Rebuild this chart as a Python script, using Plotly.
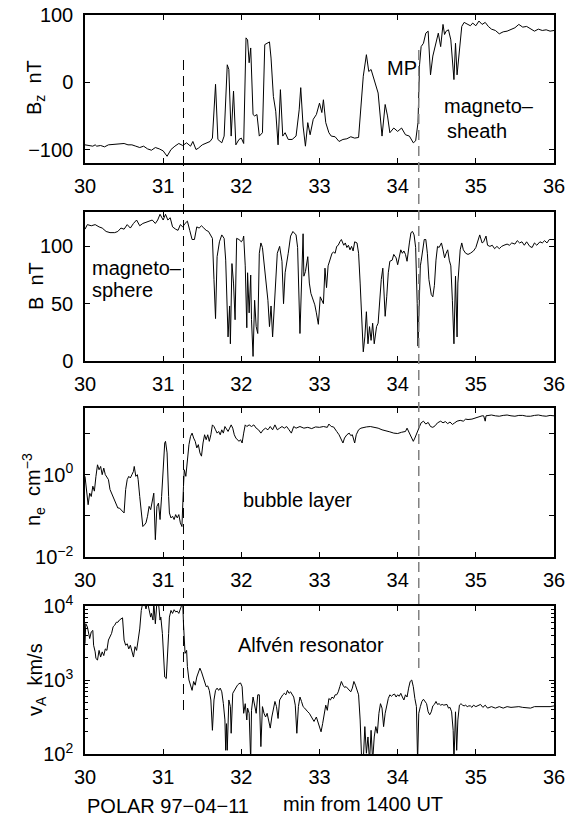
import numpy as np
import plotly.graph_objects as go

# ---------------- data ----------------
bz_t = [30.0,30.05,30.1,30.13,30.15,30.2,30.25,30.3,30.4,30.5,30.55,30.6,30.65,30.7,30.75,30.8,30.85,30.9,30.95,31.0,
        31.05,31.1,31.15,31.2,31.25,31.3,31.35,31.38,31.42,31.45,31.5,31.55,31.6,31.63,31.67,31.7,31.75,31.78,31.82,31.84,
        31.87,31.9,31.93,31.97,32.0,32.03,32.06,32.08,32.1,32.12,32.15,32.17,32.2,32.23,32.27,32.3,32.33,32.36,32.38,32.41,
        32.44,32.47,32.5,32.53,32.56,32.6,32.65,32.7,32.74,32.76,32.79,32.82,32.85,32.88,32.92,32.96,33.0,
        33.03,33.05,33.08,33.12,33.15,33.2,33.25,33.3,33.35,33.4,33.45,33.5,33.53,33.56,33.6,33.63,33.66,33.7,33.75,33.8,
        33.84,33.87,33.9,33.95,34.0,34.05,34.1,34.15,34.2,34.23,34.26,34.28,34.3,34.33,34.36,34.39,34.42,34.45,34.49,34.52,
        34.55,34.58,34.6,34.62,34.65,34.68,34.72,34.74,34.76,34.79,34.82,34.85,34.9,34.93,34.96,35.0,35.04,35.08,35.12,35.16,
        35.2,35.25,35.3,35.35,35.4,35.45,35.5,35.55,35.6,35.65,35.7,35.75,35.8,35.85,35.9,35.95,36.0]
bz_nT = [-93,-94,-95,-93,-95,-94,-96,-93,-92,-91,-93,-93,-95,-97,-95,-99,-101,-97,-99,-102,
         -110,-100,-95,-91,-94,-90,-95,-88,-100,-98,-93,-91,-88,-83,-3,-85,-90,-80,26,19,
         -80,-13,-93,-85,-83,-91,66,63,29,51,-48,-50,-48,-80,-75,56,58,60,36,-21,
         -43,-93,-11,-80,-75,-85,-85,-80,-41,-8,-65,-95,-60,-78,-55,-48,-31,
         -45,-26,-60,-75,-80,-81,-88,-85,-84,-81,-83,-82,-41,9,41,16,19,4,-16,-80,
         -33,-50,-75,-68,-73,-68,-78,-80,-90,-87,-60,26,53,58,73,76,11,39,58,73,
         53,86,71,76,78,63,4,58,11,44,83,89,86,84,88,84,91,86,89,83,
         79,77,72,75,76,78,81,86,82,83,79,76,79,77,78,76,77]

b_t = [30.0,30.03,30.08,30.13,30.18,30.22,30.27,30.32,30.38,30.42,30.46,30.5,30.54,30.58,30.62,30.66,30.7,30.74,30.78,30.82,
       30.86,30.9,30.93,30.96,31.0,31.03,31.06,31.09,31.12,31.16,31.19,31.22,31.25,31.28,31.31,31.34,31.37,31.4,31.43,31.46,
       31.49,31.52,31.55,31.58,31.61,31.63,31.65,31.67,31.69,31.72,31.75,31.78,31.8,31.82,31.83,31.85,31.86,31.88,31.9,31.92,
       31.94,31.97,32.0,32.02,32.03,32.05,32.07,32.08,32.1,32.12,32.13,32.15,32.17,32.19,32.21,32.23,32.25,32.27,32.3,32.32,
       32.34,32.36,32.38,32.4,32.43,32.46,32.49,32.52,32.54,32.56,32.6,32.63,32.66,32.7,32.72,32.75,32.79,32.8,32.82,32.85,
       32.87,32.89,32.91,32.94,32.96,32.985,33.01,33.03,33.05,33.07,33.09,33.11,33.14,33.16,33.18,33.2,33.22,33.24,33.26,33.28,
       33.31,33.33,33.35,33.37,33.39,33.41,33.43,33.45,33.48,33.5,33.52,33.54,33.56,33.58,33.6,33.62,33.64,33.66,33.68,33.7,
       33.73,33.75,33.77,33.79,33.81,33.82,33.84,33.86,33.88,33.9,33.93,33.95,33.98,34.0,34.02,34.04,34.06,34.08,34.1,34.12,
       34.15,34.17,34.19,34.21,34.23,34.24,34.25,34.26,34.28,34.29,34.3,34.32,34.34,34.36,34.38,34.4,34.43,34.45,34.47,34.49,
       34.51,34.53,34.56,34.58,34.6,34.62,34.64,34.66,34.68,34.7,34.72,34.74,34.76,34.77,34.8,34.82,34.84,34.87,34.9,34.93,
       34.97,35.0,35.03,35.05,35.08,35.1,35.13,35.15,35.18,35.21,35.24,35.27,35.3,35.33,35.36,35.4,35.43,35.46,35.5,35.53,
       35.56,35.59,35.62,35.65,35.69,35.72,35.75,35.78,35.82,35.85,35.88,35.91,35.94,35.97,36.0]
b_nT = [115,119,118,119,117,116,113,112,112,113,116,115,119,116,120,123,118,120,121,122,
        123,120,123,128,123,128,123,125,117,115,114,119,117,120,122,114,106,106,117,116,
        118,116,114,113,109,107,71,37,91,104,110,107,88,42,21,48,15,85,68,36,
        107,106,104,106,109,83,29,77,42,75,36,4,53,30,24,94,103,99,80,68,
        53,30,48,21,56,94,100,87,50,77,94,109,113,110,99,24,111,74,78,91,
        68,59,55,49,42,32,56,53,50,81,64,83,91,94,95,94,100,101,104,106,
        101,103,99,101,97,100,96,104,103,94,68,30,8,21,43,15,30,18,33,15,
        30,33,58,71,81,68,39,56,77,87,88,93,90,84,91,97,94,96,93,87,
        103,112,113,110,99,80,50,13,68,83,87,97,106,106,94,71,58,56,66,88,
        100,99,103,97,90,94,97,88,83,53,15,74,21,68,97,103,97,94,93,94,
        96,99,107,110,103,104,109,101,100,101,98,100,98,100,101,102,101,103,102,105,
        103,104,101,104,100,99,103,101,104,103,105,103,106,106,106]

ne_t = [30.0,30.02,30.04,30.06,30.08,30.1,30.12,30.14,30.16,30.18,30.2,30.22,30.24,30.26,30.28,30.3,30.32,30.34,30.36,30.38,
        30.4,30.42,30.44,30.46,30.48,30.5,30.52,30.54,30.56,30.58,30.6,30.62,30.63,30.65,30.67,30.68,30.7,30.72,30.74,30.76,
        30.78,30.8,30.82,30.84,30.86,30.88,30.9,30.92,30.94,30.96,30.98,31.0,31.02,31.03,31.05,31.07,31.08,31.1,31.12,31.14,
        31.16,31.18,31.2,31.22,31.24,31.26,31.27,31.29,31.31,31.33,31.35,31.37,31.39,31.41,31.43,31.45,31.47,31.49,31.51,31.53,
        31.55,31.57,31.59,31.61,31.63,31.65,31.67,31.69,31.71,31.73,31.75,31.77,31.79,31.81,31.83,31.85,31.87,31.89,31.91,31.93,
        31.95,31.97,31.99,32.01,32.03,32.05,32.07,32.1,32.13,32.16,32.19,32.22,32.25,32.28,32.31,32.34,32.37,32.4,32.43,32.46,
        32.49,32.52,32.55,32.58,32.61,32.64,32.67,32.7,32.75,32.8,32.85,32.9,32.95,33.0,33.05,33.1,33.12,33.15,33.18,33.2,
        33.22,33.25,33.28,33.3,33.32,33.35,33.38,33.4,33.42,33.45,33.47,33.5,33.53,33.56,33.6,33.65,33.7,33.75,33.8,33.85,
        33.9,33.95,34.0,34.05,34.1,34.12,34.15,34.18,34.2,34.22,34.25,34.28,34.3,34.33,34.36,34.39,34.42,34.45,34.48,34.51,
        34.55,34.58,34.61,34.64,34.67,34.7,34.73,34.76,34.8,34.84,34.87,34.9,34.95,35.0,35.05,35.08,35.1,35.12,35.13,35.17,
        35.2,35.25,35.3,35.35,35.4,35.45,35.5,35.55,35.6,35.65,35.7,35.75,35.8,35.85,35.9,35.95,36.0]
ne_log10_cm3 = [-0.04,-0.36,-0.73,-0.45,-0.53,-0.28,-0.4,-0.04,0.24,0.12,0.2,0.0,0.16,0.0,-0.08,-0.12,-0.36,-0.45,-0.53,-0.61,
                -0.73,-0.81,-0.81,-0.85,-0.89,-0.93,-0.36,-0.12,-0.04,-0.08,0.0,0.08,0.2,-0.04,0.0,-0.12,-0.53,-1.01,-1.26,-1.22,
                -1.17,-1.01,-0.77,-0.85,-0.69,-0.45,-1.58,-0.77,-0.69,-1.09,-0.53,0.2,0.77,0.81,0.53,-0.53,-0.93,-1.05,-1.01,-1.09,
                -0.97,-1.05,-0.97,-1.17,-1.26,-0.28,0.12,-0.04,0.45,0.73,0.93,1.01,0.89,0.81,0.65,0.73,0.53,0.45,0.77,0.97,
                0.85,0.97,0.81,0.97,1.21,1.17,1.09,1.01,1.05,0.97,1.09,1.01,1.17,1.09,1.05,1.13,1.21,1.13,0.97,0.89,
                0.85,0.81,0.85,0.77,1.01,1.21,1.17,1.21,1.17,1.21,1.13,1.09,1.01,1.09,1.13,1.09,1.17,1.09,1.21,1.09,
                1.13,1.17,1.13,1.17,1.09,1.01,1.17,1.13,1.17,1.13,1.15,1.12,1.16,1.15,1.17,1.15,1.23,1.17,1.16,1.09,
                1.05,0.97,0.87,0.77,0.89,0.97,1.01,0.95,0.97,0.77,0.97,1.09,1.13,1.15,1.16,1.17,1.15,1.13,1.09,1.07,
                1.04,1.01,1.0,1.03,1.05,1.13,1.01,0.89,0.81,0.89,1.05,1.17,1.26,1.30,1.23,1.27,1.17,1.15,1.19,1.26,
                1.30,1.26,1.29,1.24,1.28,1.22,1.26,1.30,1.32,1.30,1.35,1.34,1.35,1.38,1.42,1.43,1.43,1.30,1.43,1.44,
                1.45,1.43,1.42,1.44,1.45,1.43,1.42,1.44,1.44,1.42,1.42,1.44,1.45,1.43,1.42,1.44,1.43]

va_t = [30.0,30.01,30.03,30.04,30.05,30.06,30.08,30.1,30.11,30.13,30.14,30.16,30.18,30.2,30.22,30.24,30.26,30.28,30.3,30.32,
        30.34,30.36,30.38,30.4,30.42,30.44,30.46,30.48,30.5,30.52,30.54,30.56,30.58,30.6,30.62,30.64,30.66,30.68,30.7,30.72,
        30.74,30.76,30.78,30.8,30.82,30.84,30.85,30.87,30.88,30.9,30.92,30.94,30.96,30.97,30.99,31.01,31.02,31.04,31.05,31.07,
        31.08,31.1,31.12,31.14,31.16,31.18,31.2,31.22,31.24,31.25,31.26,31.27,31.28,31.3,31.31,31.33,31.35,31.37,31.39,31.41,
        31.43,31.45,31.47,31.49,31.51,31.53,31.55,31.57,31.59,31.61,31.63,31.65,31.67,31.69,31.71,31.73,31.75,31.77,31.79,31.8,
        31.81,31.82,31.84,31.86,31.87,31.89,31.91,31.93,31.95,31.97,31.99,32.01,32.03,32.05,32.07,32.08,32.1,32.12,32.13,32.15,
        32.17,32.19,32.21,32.23,32.25,32.27,32.29,32.31,32.33,32.35,32.37,32.39,32.41,32.43,32.45,32.47,32.49,32.51,32.53,32.55,
        32.57,32.59,32.61,32.63,32.65,32.67,32.69,32.71,32.73,32.75,32.77,32.79,32.81,32.83,32.85,32.87,32.9,32.93,32.96,33.0,
        33.02,33.04,33.06,33.08,33.1,33.12,33.14,33.16,33.18,33.2,33.22,33.24,33.26,33.28,33.3,33.32,33.34,33.36,33.38,33.4,
        33.42,33.44,33.46,33.48,33.5,33.52,33.54,33.56,33.58,33.6,33.62,33.64,33.66,33.68,33.7,33.72,33.74,33.76,33.78,33.8,
        33.82,33.84,33.86,33.88,33.9,33.92,33.94,33.96,33.98,34.0,34.02,34.04,34.06,34.08,34.1,34.12,34.14,34.16,34.18,34.2,
        34.22,34.24,34.255,34.27,34.29,34.31,34.33,34.35,34.37,34.39,34.41,34.43,34.45,34.47,34.49,34.51,34.53,34.55,34.57,34.59,
        34.61,34.63,34.65,34.67,34.69,34.71,34.72,34.74,34.755,34.77,34.79,34.81,34.83,34.85,34.87,34.89,34.91,34.93,34.95,34.97,
        35.0,35.03,35.06,35.09,35.12,35.15,35.2,35.25,35.3,35.35,35.4,35.45,35.5,35.55,35.6,35.65,35.7,35.75,35.8,35.85,
        35.9,35.95,36.0]
va_log10_kms = [3.49,3.76,3.72,3.67,3.60,3.56,3.65,3.67,3.47,3.38,3.29,3.27,3.40,3.31,3.38,3.33,3.42,3.40,3.54,3.58,
                3.63,3.72,3.74,3.78,3.78,3.81,3.83,3.84,3.54,3.47,3.49,3.42,3.47,3.38,3.31,3.45,3.40,3.54,3.69,3.94,
                4.05,4.05,3.96,4.05,3.94,3.85,3.90,3.81,4.05,3.76,4.05,4.05,3.81,3.85,3.63,3.27,3.04,3.02,3.18,3.63,
                3.85,3.94,3.90,3.95,3.92,3.93,3.90,3.96,3.99,4.05,3.76,3.49,3.36,3.40,3.18,3.00,2.91,2.86,2.98,2.93,
                3.04,3.11,3.16,3.11,3.04,2.95,2.91,2.92,2.86,2.73,2.32,2.73,2.86,2.89,2.86,2.89,2.84,2.68,2.46,2.05,
                2.41,2.05,2.73,2.64,2.28,2.82,2.86,2.91,2.93,2.95,2.96,2.91,2.55,2.68,2.46,2.62,2.55,1.9,2.59,2.77,
                2.64,2.55,2.80,2.80,2.10,2.64,2.55,2.50,2.55,2.46,2.35,2.50,2.62,2.71,2.64,2.48,2.73,2.77,2.80,2.82,
                2.80,2.86,2.82,2.84,2.80,2.77,2.66,2.28,2.64,2.77,2.71,2.64,2.62,2.59,2.57,2.55,2.50,2.44,2.50,2.37,
                2.30,2.41,2.53,2.66,2.59,2.75,2.73,2.77,2.75,2.80,2.80,2.84,2.91,2.98,2.93,2.90,2.91,2.89,2.86,2.84,
                2.89,2.98,2.93,2.86,2.80,2.46,1.9,1.9,2.37,2.01,2.23,1.9,2.32,1.9,2.23,2.37,2.28,2.55,2.68,2.62,
                2.37,2.55,2.68,2.75,2.80,2.78,2.80,2.81,2.77,2.80,2.78,2.82,2.77,2.73,2.80,2.77,2.89,2.98,3.00,2.91,
                2.75,2.64,1.9,2.55,2.64,2.71,2.74,2.71,2.68,2.57,2.53,2.57,2.65,2.67,2.71,2.67,2.68,2.66,2.67,2.66,
                2.66,2.67,2.62,2.63,2.57,2.32,1.9,2.57,2.05,2.46,2.66,2.68,2.66,2.65,2.66,2.64,2.65,2.65,2.63,2.66,
                2.64,2.65,2.67,2.63,2.66,2.62,2.64,2.62,2.64,2.62,2.64,2.63,2.64,2.64,2.63,2.62,2.62,2.64,2.64,2.63,
                2.63,2.64,2.65]

x_ticks = [30, 31, 32, 33, 34, 35, 36]
boundary_times = [31.26, 34.27]   # dashed vertical markers

# ---------------- layout helpers ----------------
W, H = 567, 820
def fx(px): return px / W
def fy(py): return 1 - py / H

FONT = "Liberation Sans, Arial, Helvetica, sans-serif"
FS = 20
xdom = [fx(85), fx(554)]
panels_px = [(15, 163), (212, 361), (408, 557), (606, 754)]

fig = go.Figure()
series = [(bz_t, bz_nT), (b_t, b_nT),
          (ne_t, list(10 ** np.array(ne_log10_cm3))),
          (va_t, list(10 ** np.array(va_log10_kms)))]
for i, (t, v) in enumerate(series):
    sfx = "" if i == 0 else str(i + 1)
    fig.add_trace(go.Scatter(x=t, y=v, mode="lines", line=dict(color="black", width=1),
                             xaxis="x" + sfx, yaxis="y" + sfx, showlegend=False, hoverinfo="skip"))

common = dict(ticks="inside", ticklen=5, tickwidth=1, tickcolor="black", mirror="ticks",
              showline=True, linecolor="black", linewidth=1.5, showgrid=False, zeroline=False,
              tickfont=dict(family=FONT, size=FS, color="black"), automargin=False)

y_specs = [
    dict(type="linear", range=[-120, 100], tickvals=[-100, 0, 100]),
    dict(type="linear", range=[0, 130], tickvals=[0, 50, 100]),
    dict(type="log", range=[-2, 1.62], tickvals=[0.01, 1],
         ticktext=["10<sup>\u22122</sup>", "10<sup>0</sup>"],
         minor=dict(ticks="inside", ticklen=5, tickcolor="black", tickvals=[0.1, 10], showgrid=False)),
    dict(type="log", range=[2, 4], tickvals=[100, 1000, 10000],
         ticktext=["10<sup>2</sup>", "10<sup>3</sup>", "10<sup>4</sup>"],
         minor=dict(ticks="inside", ticklen=3, tickcolor="black", dtick="D1", showgrid=False)),
]
lay = {}
for i, (top, bot) in enumerate(panels_px):
    sfx = "" if i == 0 else str(i + 1)
    lay["xaxis" + sfx] = dict(common, domain=xdom, anchor="y" + sfx, range=[30, 36],
                              tickvals=x_ticks, ticklabelstandoff=4)
    lay["yaxis" + sfx] = dict(common, domain=[fy(bot), fy(top)], anchor="x" + sfx,
                              ticklabelstandoff=6, **y_specs[i])

anns = []
def txt(s, x, y, size=FS, anchor="left", angle=0):
    anns.append(dict(text=s, x=fx(x), y=fy(y), xref="paper", yref="paper", showarrow=False,
                     xanchor=anchor, yanchor="middle", textangle=angle,
                     font=dict(family=FONT, size=size, color="black")))

txt("MP", 385, 68)
txt("magneto\u2013", 442, 106)
txt("sheath", 445, 131)
txt("magneto\u2013", 90, 268)
txt("sphere", 90, 290)
txt("bubble layer", 241, 500)
txt("Alfvén resonator", 236, 645)
txt("B<sub>z</sub>  nT", 36, 88, anchor="center", angle=-90)
txt("B  nT", 36, 286, anchor="center", angle=-90)
txt("n<sub>e</sub>  cm<sup>\u22123</sup>", 33, 490, anchor="center", angle=-90)
txt("v<sub>A</sub>  km/s", 36, 680, anchor="center", angle=-90)
txt("POLAR 97\u221204\u221211", 85, 806)
txt("min from 1400 UT", 281, 804)

shapes = [
    dict(type="line", xref="x", yref="paper", x0=boundary_times[0], x1=boundary_times[0],
         y0=fy(710), y1=fy(55), line=dict(color="black", width=1, dash="10px,6px"), layer="above"),
    dict(type="line", xref="x", yref="paper", x0=boundary_times[1], x1=boundary_times[1],
         y0=fy(668), y1=fy(47), line=dict(color="#808080", width=1.5, dash="10px,6px"), layer="above"),
]

fig.update_layout(width=W, height=H, margin=dict(l=0, r=0, t=0, b=0),
                  paper_bgcolor="white", plot_bgcolor="white",
                  annotations=anns, shapes=shapes, **lay)
fig.write_html("out.html")
